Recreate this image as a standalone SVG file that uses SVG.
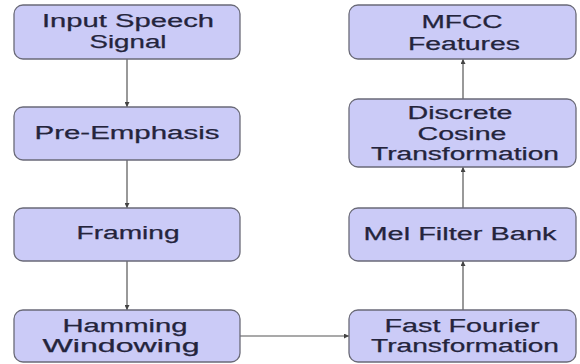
<svg xmlns="http://www.w3.org/2000/svg" width="580" height="364" viewBox="0 0 580 364">
<style>
.box{fill:#cbcbf7;stroke:#6a6a78;stroke-width:1.3}
.t{font-family:"Liberation Sans",Arial,sans-serif;font-size:18px;fill:#24243c;stroke:#24243c;stroke-width:0.25;text-anchor:middle}
.c{stroke:#555;stroke-width:1.2;fill:none}
</style>
<defs>
<marker id="ah" viewBox="0 0 6 6" refX="6" refY="3" markerWidth="5" markerHeight="5" orient="auto" markerUnits="userSpaceOnUse">
<path d="M0,0 L6,3 L0,6 z" fill="#444"/>
</marker>
</defs>
<rect width="580" height="364" fill="#fff"/>
<g id="connectors">
<line class="c" x1="127" y1="59" x2="127" y2="107" marker-end="url(#ah)"/>
<line class="c" x1="127" y1="160" x2="127" y2="208" marker-end="url(#ah)"/>
<line class="c" x1="127" y1="261" x2="127" y2="310" marker-end="url(#ah)"/>
<line class="c" x1="240" y1="336" x2="349" y2="336" marker-end="url(#ah)"/>
<line class="c" x1="463" y1="310" x2="463" y2="261" marker-end="url(#ah)"/>
<line class="c" x1="463" y1="208" x2="463" y2="167" marker-end="url(#ah)"/>
<line class="c" x1="463" y1="99" x2="463" y2="59" marker-end="url(#ah)"/>
</g>
<g id="input">
<rect class="box" x="14" y="5" width="226" height="54" rx="9"/>
<text class="t" x="128" y="27" textLength="172" lengthAdjust="spacingAndGlyphs">Input Speech</text>
<text class="t" x="128" y="48" textLength="77" lengthAdjust="spacingAndGlyphs">Signal</text>
</g>
<g id="preemph">
<rect class="box" x="14" y="107" width="226" height="53" rx="9"/>
<text class="t" x="127" y="139" textLength="185" lengthAdjust="spacingAndGlyphs">Pre-Emphasis</text>
</g>
<g id="framing">
<rect class="box" x="14" y="208" width="226" height="53" rx="9"/>
<text class="t" x="128" y="239" textLength="103" lengthAdjust="spacingAndGlyphs">Framing</text>
</g>
<g id="hamming">
<rect class="box" x="14" y="310" width="226" height="52" rx="9"/>
<text class="t" x="125" y="332" textLength="125" lengthAdjust="spacingAndGlyphs">Hamming</text>
<text class="t" x="121" y="352" textLength="157" lengthAdjust="spacingAndGlyphs">Windowing</text>
</g>
<g id="mfcc">
<rect class="box" x="349" y="5" width="227" height="54" rx="9"/>
<text class="t" x="462" y="28" textLength="81" lengthAdjust="spacingAndGlyphs">MFCC</text>
<text class="t" x="464" y="50" textLength="112" lengthAdjust="spacingAndGlyphs">Features</text>
</g>
<g id="dct">
<rect class="box" x="349" y="99" width="227" height="68" rx="9"/>
<text class="t" x="460" y="119" textLength="105" lengthAdjust="spacingAndGlyphs">Discrete</text>
<text class="t" x="462" y="140" textLength="89" lengthAdjust="spacingAndGlyphs">Cosine</text>
<text class="t" x="465" y="160" textLength="188" lengthAdjust="spacingAndGlyphs">Transformation</text>
</g>
<g id="mel">
<rect class="box" x="349" y="208" width="227" height="53" rx="9"/>
<text class="t" x="460" y="240" textLength="193" lengthAdjust="spacingAndGlyphs">Mel Filter Bank</text>
</g>
<g id="fft">
<rect class="box" x="349" y="310" width="227" height="52" rx="9"/>
<text class="t" x="462" y="332" textLength="155" lengthAdjust="spacingAndGlyphs">Fast Fourier</text>
<text class="t" x="465" y="352" textLength="188" lengthAdjust="spacingAndGlyphs">Transformation</text>
</g>
</svg>
